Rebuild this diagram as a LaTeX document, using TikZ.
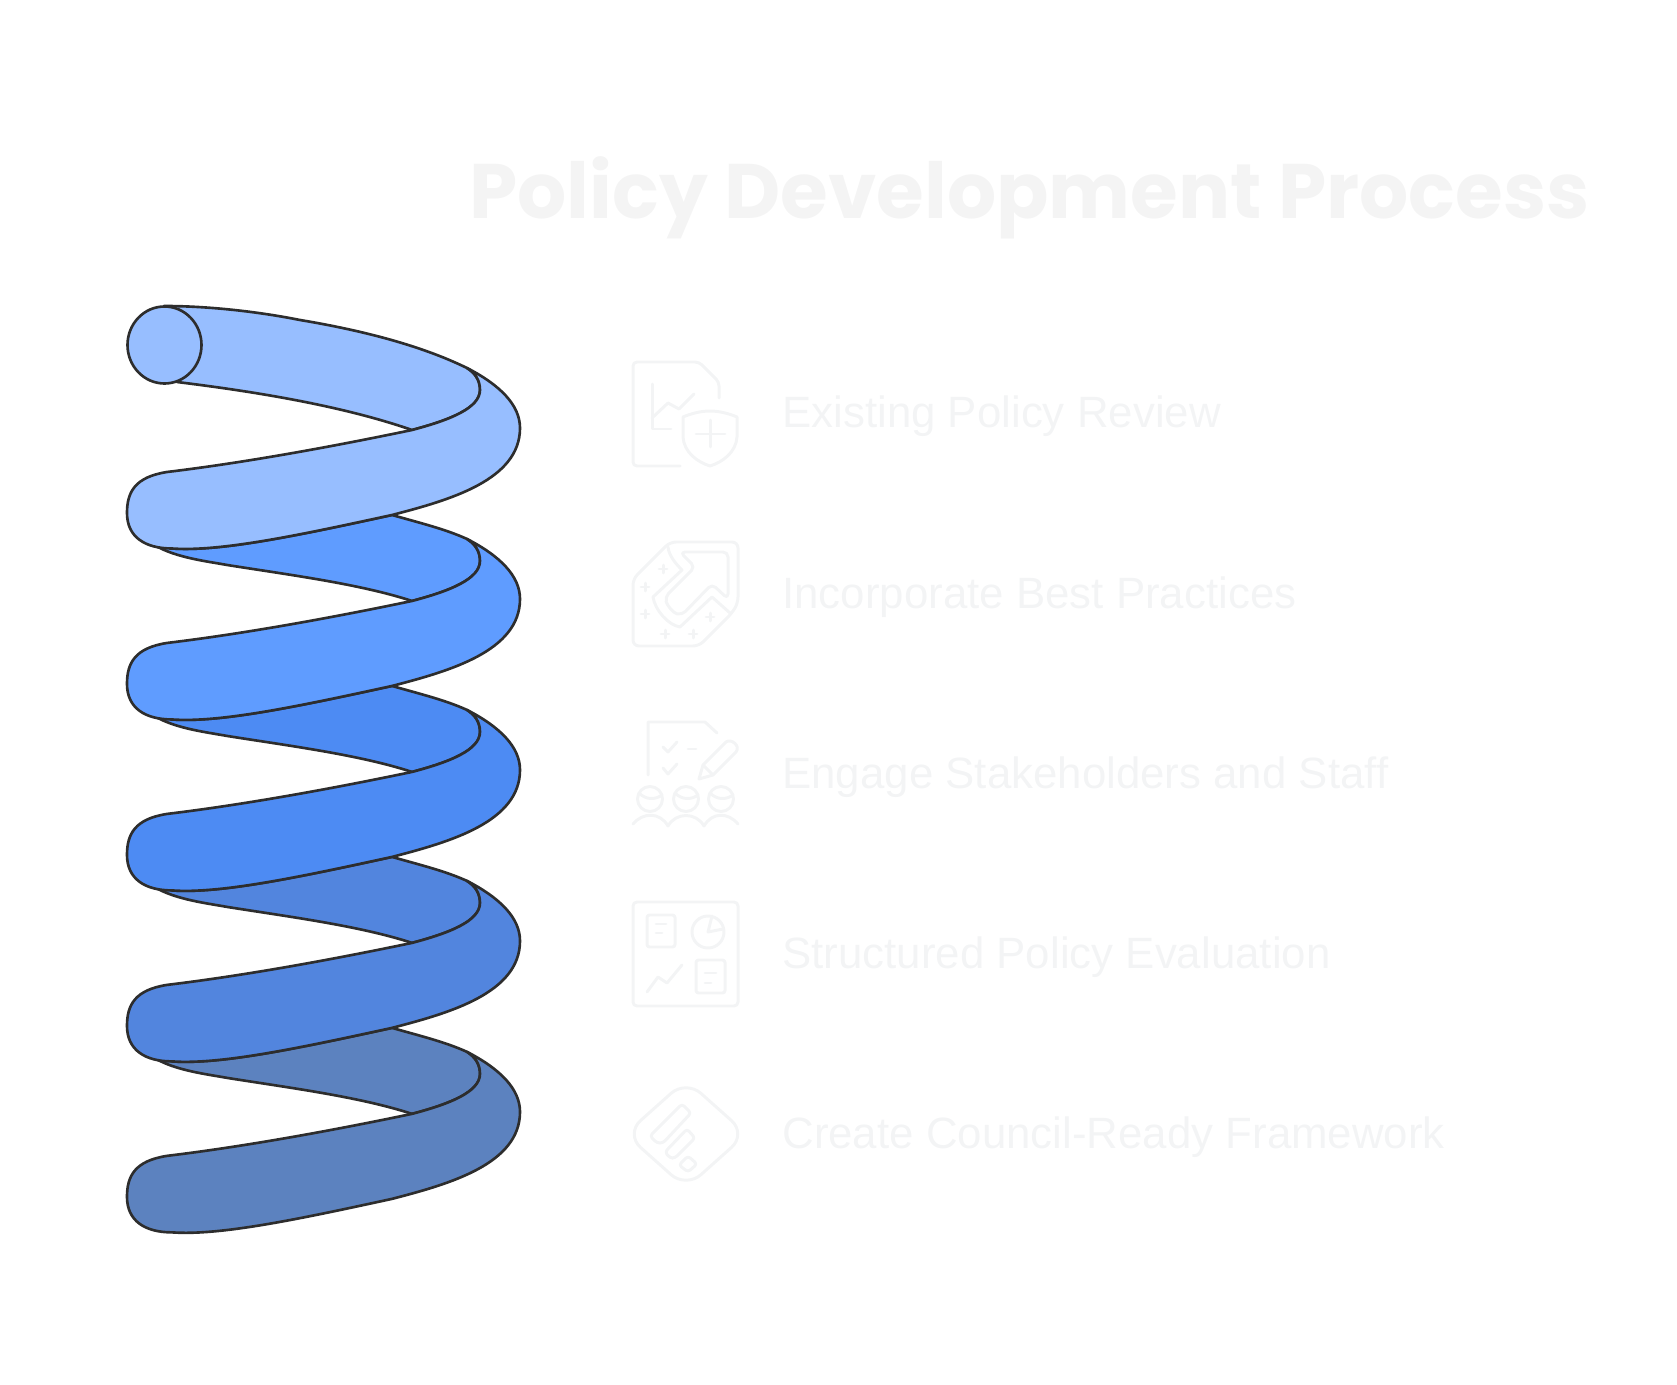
\documentclass[tikz,border=0pt]{standalone}
\usepackage{fontspec}
\setmainfont{Liberation Sans}
\newfontfamily\titlefont{Poppins}
\definecolor{coilstroke}{HTML}{2D2D2D}
\definecolor{coilA}{HTML}{97BEFF}
\definecolor{coilB}{HTML}{5F9CFF}
\definecolor{coilC}{HTML}{4D8BF3}
\definecolor{coilD}{HTML}{5285DE}
\definecolor{coilE}{HTML}{5C82BF}
\definecolor{faint}{HTML}{F3F4F5}
\definecolor{faintgray}{HTML}{F4F4F4}
\tikzset{
  coilline/.style={draw=coilstroke,line width=1.5pt,line join=round},
  iconline/.style={draw=faint,line width=1.7pt,line join=round,line cap=round},
  steplabel/.style={anchor=base west,inner sep=0pt,text=faint,font=\fontsize{24.95}{28}\selectfont},
}
\newcommand\coilfront[1]{
\draw[coilline,fill=#1] (467,368) .. controls (500,385) and (520,405) .. (520,428)
  .. controls (520,480) and (450,500) .. (392,515)
  .. controls (300,535) and (220,552) .. (172,548.5)
  .. controls (145,548.5) and (127,537) .. (127,513)
  .. controls (127,492) and (135,477) .. (167,472)
  .. controls (250,462) and (340,445) .. (412,430)
  .. controls (450,420) and (480,408) .. (480,390)
  .. controls (480,380) and (475,373) .. (467,368) -- cycle;
}
\newcommand\coilturn[2]{
\begin{scope}[yshift=-#1cm]
\draw[coilline,fill=#2] (150,371) .. controls (170,386) and (205,390) .. (227,394)
  .. controls (290,404) and (360,413) .. (412,430)
  .. controls (450,420) and (480,408) .. (480,390)
  .. controls (480,380) and (475,373) .. (467,368)
  .. controls (445,358) and (420,352) .. (392,344)
  .. controls (300,364) and (220,381) .. (172,377.5) -- cycle;
\coilfront{#2}
\end{scope}
}
\newcommand\sparkle[2]{
\draw[iconline] (#1-4,#2) -- (#1+4,#2) (#1,#2-4) -- (#1,#2+4);
}

\begin{document}
\begin{tikzpicture}[x=0.02cm,y=-0.02cm]

\useasboundingbox (0,0) rectangle (1677,1385);

\coilturn{13.68}{coilE}
\coilturn{10.26}{coilD}
\coilturn{6.84}{coilC}
\coilturn{3.42}{coilB}

\draw[coilline,fill=coilA] (164,306) .. controls (210,306) and (260,312) .. (300,320)
  .. controls (360,330) and (420,345) .. (467,368)
  .. controls (475,373) and (480,380) .. (480,390)
  .. controls (480,408) and (450,420) .. (412,430)
  .. controls (340,405) and (250,391) .. (177,382) -- cycle;
\coilfront{coilA}
\draw[coilline,fill=coilA] (164.5,345) ellipse (37 and 38.5);

\node[anchor=base west,inner sep=0pt,text=faintgray,font=\titlefont\bfseries\fontsize{44}{50}\selectfont] (title) at (469,219) {Policy Development Process};

\node[steplabel] (review) at (782,428) {Existing Policy Review};
\node[steplabel] (practices) at (782,608) {Incorporate Best Practices};
\node[steplabel] (stakeholders) at (782,788) {Engage Stakeholders and Staff};
\node[steplabel] (evaluation) at (782,968) {Structured Policy Evaluation};
\node[steplabel] (framework) at (782,1148) {Create Council-Ready Framework};

\draw[iconline,rounded corners=0.08cm] (680,466) -- (633,466) -- (633,362) -- (699,362) -- (719,382) -- (719,398);
\draw[iconline] (652,384) -- (652,429) -- (671,429);
\draw[iconline] (652,418) -- (668,403) -- (679,409) -- (694,394);
\draw[iconline] (710,411) .. controls (700,411) and (690,414) .. (683,417) -- (683,437) .. controls (684,452) and (697,462) .. (710,466) .. controls (723,462) and (736,452) .. (737,437) -- (737,417) .. controls (730,414) and (720,411) .. (710,411) -- cycle;
\draw[iconline] (710,420) -- (710,447) (696,434) -- (725,434);

\draw[iconline,rounded corners=0.12cm] (670,542) -- (738,542) -- (738,603) -- (732,613) -- (699,646) -- (633,646) -- (633,579) -- cycle;
\draw[iconline] (668,547) .. controls (669,556) and (676,564) .. (682,570) -- (653,597) .. controls (655,610) and (668,625) .. (680,627) -- (712,597) -- (730,613);
\draw[iconline,rounded corners=0.1cm] (680,552) -- (728,552) -- (728,599) -- (712,584) -- (682,615) .. controls (673,613) and (667,605) .. (665,597) -- (695,567) -- cycle;
\sparkle{663}{569}
\sparkle{645}{587}
\sparkle{645}{614}
\sparkle{665}{634}
\sparkle{693}{634}
\sparkle{710}{617}

\draw[iconline] (648,775) -- (648,722) -- (705,722) -- (717,733);
\draw[iconline] (663,747) -- (668,752) -- (677,742);
\draw[iconline] (663,768) -- (668,774) -- (677,764);
\draw[iconline] (688,749) -- (696,749);
\draw[iconline] (699,779) -- (703,765) -- (726,742) .. controls (731,738) and (741,746) .. (736,752) -- (713,775) -- cycle;
\draw[iconline] (703,765) -- (713,775);
\draw[iconline] (650,799) circle (12.5);
\draw[iconline] (686,799) circle (12.5);
\draw[iconline] (721,799) circle (12.5);
\draw[iconline] (639,793) .. controls (646,800) and (655,800) .. (662,795);
\draw[iconline] (675,793) .. controls (682,800) and (691,800) .. (698,795);
\draw[iconline] (710,793) .. controls (717,800) and (726,800) .. (733,795);
\draw[iconline] (633,824) .. controls (643,812) and (660,812) .. (668,826) .. controls (676,812) and (696,812) .. (704,826) .. controls (712,812) and (728,812) .. (738,824);

\draw[iconline,rounded corners=0.08cm] (633,902) rectangle (738,1006);
\draw[iconline,rounded corners=0.05cm] (647,915) rectangle (675,947);
\draw[iconline] (656,924) -- (666,924) (656,933) -- (662,933);
\draw[iconline] (708,932) circle (16);
\draw[iconline] (712,916) -- (708,932) -- (723,929);
\draw[iconline] (647,992) -- (658,977) -- (667,983) -- (682,965);
\draw[iconline,rounded corners=0.05cm] (696,960) rectangle (725,993);
\draw[iconline] (705,973) -- (716,973) (705,983) -- (711,983);

\draw[iconline,rounded corners=0.4cm] (686,1080) -- (746.5,1134) -- (686,1188) -- (625.5,1134) -- cycle;
\draw[iconline,rounded corners=0.06cm] (650,1136) -- (682,1104) -- (691,1113) -- (663,1143) -- (657,1143) -- cycle;
\draw[iconline,rounded corners=0.06cm] (665,1152) -- (687,1129) -- (695,1138) -- (675,1158) -- (670,1158) -- cycle;
\draw[iconline,rounded corners=0.06cm] (679,1165) -- (688,1156) -- (697,1164) -- (688,1172) -- cycle;

\end{tikzpicture}
\end{document}
